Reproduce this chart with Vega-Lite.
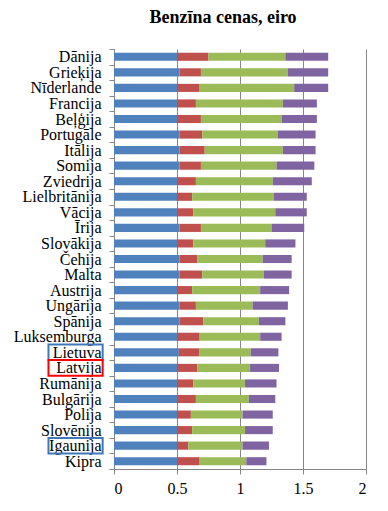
{
  "$schema": "https://vega.github.io/schema/vega-lite/v6.json",
  "width": 252,
  "height": 420,
  "autosize": "none",
  "padding": {"left": 114, "top": 49, "right": 22, "bottom": 42},
  "background": "white",
  "title": {"text": "Benzīna cenas, eiro", "anchor": "middle", "dx": -17, "offset": 14},
  "config": {
    "view": {"stroke": null},
    "font": "Liberation Serif",
    "title": {"font": "Liberation Serif", "fontSize": 18, "fontWeight": "bold", "color": "black"},
    "axis": {"labelFont": "Liberation Serif", "labelFontSize": 16, "labelColor": "black", "tickColor": "#868686", "domainColor": "#868686", "gridColor": "#868686", "tickSize": 5, "title": null}
  },
  "datasets": {
    "prices": [
      {"valsts": "Dānija", "k": 1, "v": 0.50}, {"valsts": "Dānija", "k": 2, "v": 0.25}, {"valsts": "Dānija", "k": 3, "v": 0.61}, {"valsts": "Dānija", "k": 4, "v": 0.34},
      {"valsts": "Grieķija", "k": 1, "v": 0.52}, {"valsts": "Grieķija", "k": 2, "v": 0.17}, {"valsts": "Grieķija", "k": 3, "v": 0.69}, {"valsts": "Grieķija", "k": 4, "v": 0.32},
      {"valsts": "Nīderlande", "k": 1, "v": 0.50}, {"valsts": "Nīderlande", "k": 2, "v": 0.18}, {"valsts": "Nīderlande", "k": 3, "v": 0.75}, {"valsts": "Nīderlande", "k": 4, "v": 0.27},
      {"valsts": "Francija", "k": 1, "v": 0.50}, {"valsts": "Francija", "k": 2, "v": 0.15}, {"valsts": "Francija", "k": 3, "v": 0.69}, {"valsts": "Francija", "k": 4, "v": 0.27},
      {"valsts": "Beļģija", "k": 1, "v": 0.50}, {"valsts": "Beļģija", "k": 2, "v": 0.19}, {"valsts": "Beļģija", "k": 3, "v": 0.64}, {"valsts": "Beļģija", "k": 4, "v": 0.28},
      {"valsts": "Portugāle", "k": 1, "v": 0.52}, {"valsts": "Portugāle", "k": 2, "v": 0.18}, {"valsts": "Portugāle", "k": 3, "v": 0.60}, {"valsts": "Portugāle", "k": 4, "v": 0.30},
      {"valsts": "Itālija", "k": 1, "v": 0.52}, {"valsts": "Itālija", "k": 2, "v": 0.20}, {"valsts": "Itālija", "k": 3, "v": 0.62}, {"valsts": "Itālija", "k": 4, "v": 0.26},
      {"valsts": "Somija", "k": 1, "v": 0.52}, {"valsts": "Somija", "k": 2, "v": 0.17}, {"valsts": "Somija", "k": 3, "v": 0.60}, {"valsts": "Somija", "k": 4, "v": 0.30},
      {"valsts": "Zviedrija", "k": 1, "v": 0.50}, {"valsts": "Zviedrija", "k": 2, "v": 0.15}, {"valsts": "Zviedrija", "k": 3, "v": 0.61}, {"valsts": "Zviedrija", "k": 4, "v": 0.31},
      {"valsts": "Lielbritānija", "k": 1, "v": 0.50}, {"valsts": "Lielbritānija", "k": 2, "v": 0.12}, {"valsts": "Lielbritānija", "k": 3, "v": 0.65}, {"valsts": "Lielbritānija", "k": 4, "v": 0.26},
      {"valsts": "Vācija", "k": 1, "v": 0.50}, {"valsts": "Vācija", "k": 2, "v": 0.13}, {"valsts": "Vācija", "k": 3, "v": 0.65}, {"valsts": "Vācija", "k": 4, "v": 0.25},
      {"valsts": "Īrija", "k": 1, "v": 0.52}, {"valsts": "Īrija", "k": 2, "v": 0.17}, {"valsts": "Īrija", "k": 3, "v": 0.56}, {"valsts": "Īrija", "k": 4, "v": 0.26},
      {"valsts": "Slovākija", "k": 1, "v": 0.50}, {"valsts": "Slovākija", "k": 2, "v": 0.13}, {"valsts": "Slovākija", "k": 3, "v": 0.57}, {"valsts": "Slovākija", "k": 4, "v": 0.24},
      {"valsts": "Čehija", "k": 1, "v": 0.52}, {"valsts": "Čehija", "k": 2, "v": 0.14}, {"valsts": "Čehija", "k": 3, "v": 0.52}, {"valsts": "Čehija", "k": 4, "v": 0.23},
      {"valsts": "Malta", "k": 1, "v": 0.52}, {"valsts": "Malta", "k": 2, "v": 0.18}, {"valsts": "Malta", "k": 3, "v": 0.49}, {"valsts": "Malta", "k": 4, "v": 0.22},
      {"valsts": "Austrija", "k": 1, "v": 0.50}, {"valsts": "Austrija", "k": 2, "v": 0.12}, {"valsts": "Austrija", "k": 3, "v": 0.54}, {"valsts": "Austrija", "k": 4, "v": 0.23},
      {"valsts": "Ungārija", "k": 1, "v": 0.52}, {"valsts": "Ungārija", "k": 2, "v": 0.13}, {"valsts": "Ungārija", "k": 3, "v": 0.45}, {"valsts": "Ungārija", "k": 4, "v": 0.28},
      {"valsts": "Spānija", "k": 1, "v": 0.52}, {"valsts": "Spānija", "k": 2, "v": 0.19}, {"valsts": "Spānija", "k": 3, "v": 0.44}, {"valsts": "Spānija", "k": 4, "v": 0.21},
      {"valsts": "Luksemburga", "k": 1, "v": 0.50}, {"valsts": "Luksemburga", "k": 2, "v": 0.18}, {"valsts": "Luksemburga", "k": 3, "v": 0.48}, {"valsts": "Luksemburga", "k": 4, "v": 0.17},
      {"valsts": "Lietuva", "k": 1, "v": 0.515}, {"valsts": "Lietuva", "k": 2, "v": 0.16}, {"valsts": "Lietuva", "k": 3, "v": 0.41}, {"valsts": "Lietuva", "k": 4, "v": 0.22},
      {"valsts": "Latvija", "k": 1, "v": 0.50}, {"valsts": "Latvija", "k": 2, "v": 0.16}, {"valsts": "Latvija", "k": 3, "v": 0.42}, {"valsts": "Latvija", "k": 4, "v": 0.23},
      {"valsts": "Rumānija", "k": 1, "v": 0.50}, {"valsts": "Rumānija", "k": 2, "v": 0.13}, {"valsts": "Rumānija", "k": 3, "v": 0.41}, {"valsts": "Rumānija", "k": 4, "v": 0.25},
      {"valsts": "Bulgārija", "k": 1, "v": 0.50}, {"valsts": "Bulgārija", "k": 2, "v": 0.15}, {"valsts": "Bulgārija", "k": 3, "v": 0.42}, {"valsts": "Bulgārija", "k": 4, "v": 0.21},
      {"valsts": "Polija", "k": 1, "v": 0.50}, {"valsts": "Polija", "k": 2, "v": 0.11}, {"valsts": "Polija", "k": 3, "v": 0.41}, {"valsts": "Polija", "k": 4, "v": 0.24},
      {"valsts": "Slovēnija", "k": 1, "v": 0.50}, {"valsts": "Slovēnija", "k": 2, "v": 0.12}, {"valsts": "Slovēnija", "k": 3, "v": 0.42}, {"valsts": "Slovēnija", "k": 4, "v": 0.22},
      {"valsts": "Igaunija", "k": 1, "v": 0.50}, {"valsts": "Igaunija", "k": 2, "v": 0.09}, {"valsts": "Igaunija", "k": 3, "v": 0.43}, {"valsts": "Igaunija", "k": 4, "v": 0.21},
      {"valsts": "Kipra", "k": 1, "v": 0.50}, {"valsts": "Kipra", "k": 2, "v": 0.18}, {"valsts": "Kipra", "k": 3, "v": 0.37}, {"valsts": "Kipra", "k": 4, "v": 0.16}
    ],
    "boxes": [
      {"valsts": "Lietuva", "krasa": "zila"},
      {"valsts": "Latvija", "krasa": "sarkana"},
      {"valsts": "Igaunija", "krasa": "zila"}
    ]
  },
  "encoding": {
    "y": {
      "field": "valsts", "type": "nominal",
      "sort": ["Dānija", "Grieķija", "Nīderlande", "Francija", "Beļģija", "Portugāle", "Itālija", "Somija", "Zviedrija", "Lielbritānija", "Vācija", "Īrija", "Slovākija", "Čehija", "Malta", "Austrija", "Ungārija", "Spānija", "Luksemburga", "Lietuva", "Latvija", "Rumānija", "Bulgārija", "Polija", "Slovēnija", "Igaunija", "Kipra"],
      "scale": {"paddingInner": 0, "paddingOuter": 0},
      "axis": {"tickBand": "extent", "labelPadding": 8, "grid": false}
    }
  },
  "layer": [
    {
      "data": {"name": "prices"},
      "mark": {"type": "bar", "height": {"band": 0.52}},
      "encoding": {
        "x": {"field": "v", "type": "quantitative", "stack": "zero",
          "scale": {"domain": [0, 2], "nice": false},
          "axis": {"values": [0, 0.5, 1, 1.5, 2], "format": "~g", "grid": true, "labelPadding": 6}},
        "color": {"field": "k", "type": "nominal", "legend": null,
          "scale": {"domain": [1, 2, 3, 4], "range": ["#4F81BD", "#C0504D", "#9BBB59", "#8064A2"]}},
        "order": {"field": "k", "type": "quantitative"}
      }
    },
    {
      "data": {"name": "boxes"},
      "mark": {"type": "rect", "filled": false, "strokeWidth": 2},
      "encoding": {
        "x": {"datum": -0.52},
        "x2": {"datum": -0.09},
        "stroke": {"field": "krasa", "type": "nominal", "legend": null,
          "scale": {"domain": ["zila", "sarkana"], "range": ["#3F78B8", "#FF0000"]}}
      }
    }
  ]
}
